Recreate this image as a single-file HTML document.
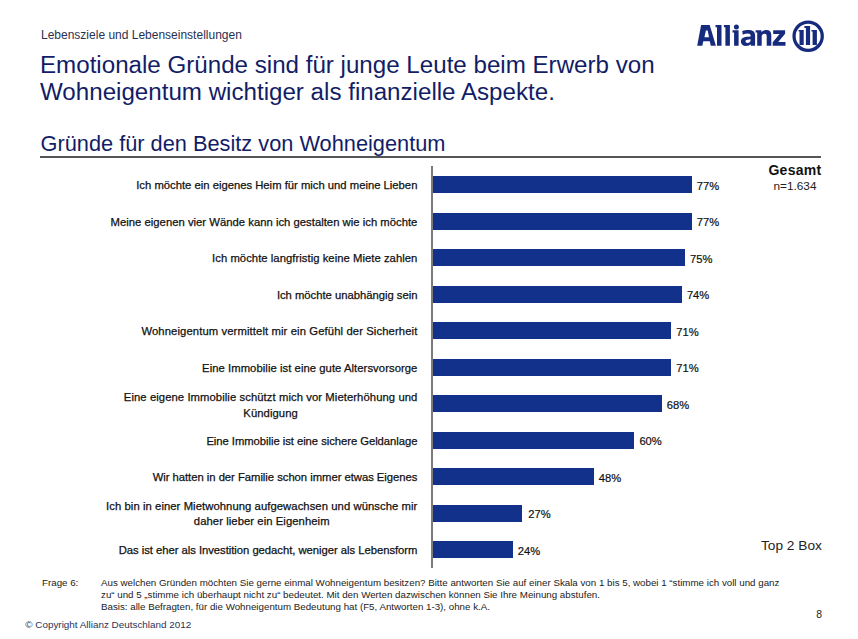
<!DOCTYPE html>
<html>
<head>
<meta charset="utf-8">
<style>
html,body{margin:0;padding:0;background:#fff;}
body{width:858px;height:639px;position:relative;overflow:hidden;font-family:"Liberation Sans",sans-serif;}
.a{position:absolute;white-space:nowrap;}
#sub{left:41px;top:28.7px;font-size:12px;line-height:12px;color:#2a3052;}
#title{left:40px;top:51.2px;font-size:24.15px;line-height:27px;color:#121d66;}
#sect{left:40.5px;top:133.3px;font-size:21.78px;line-height:21.78px;color:#121d66;}
#rule{left:40px;top:156px;width:781px;height:2px;background:#555;}
#axis{left:431px;top:166px;width:2px;height:402px;background:#7a7a7a;}
.bar{position:absolute;left:433px;height:17px;background:#12318a;}
.lbl{position:absolute;right:440.6px;text-align:center;font-size:11.27px;color:#111;-webkit-text-stroke:0.25px #111;white-space:nowrap;}
.pct{position:absolute;font-size:11.2px;line-height:11.2px;color:#111;-webkit-text-stroke:0.2px #111;white-space:nowrap;}
#gesamt{left:766px;top:163.4px;width:58px;text-align:center;font-size:14px;line-height:14px;font-weight:bold;color:#111;letter-spacing:0.3px;}
#n{left:766px;top:181.4px;width:58px;text-align:center;font-size:11.8px;line-height:11.8px;color:#222;}
#top2{left:761px;top:538.7px;font-size:13.7px;line-height:13.7px;color:#222;}
.foot{position:absolute;font-size:9.75px;line-height:11.9px;color:#222;white-space:nowrap;}
#copy{left:25.3px;top:620px;font-size:9.9px;line-height:9.9px;color:#2a3258;}
#pg{left:816.3px;top:610px;font-size:10.4px;line-height:10.4px;color:#222;}
</style>
</head>
<body>
<div class="a" id="sub">Lebensziele und Lebenseinstellungen</div>
<div class="a" id="title">Emotionale Gründe sind für junge Leute beim Erwerb von<br>Wohneigentum wichtiger als finanzielle Aspekte.</div>
<div class="a" id="sect">Gründe für den Besitz von Wohneigentum</div>
<div class="a" id="rule"></div>

<svg class="a" style="left:690px;top:15px" width="140" height="42" viewBox="690 15 140 42">
<g fill="#172b7e">
<path fill-rule="evenodd" d="M697.2 45.7 L701.1 25.1 L709.7 25.1 L715.9 45.7 L710.8 45.7 L709.8 41.2 L703.3 41.2 L702.3 45.7 Z M705.9 30.6 L707.7 30.6 L709 37.2 L704.4 37.2 Z"/>
<path d="M715.5 25.1 H721.5 V45.7 H717 V27.3 H715.5 Z"/>
<path d="M723.9 25.1 H729.9 V45.7 H725.4 V27.3 H723.9 Z"/>
<circle cx="736.4" cy="26.9" r="2.5"/>
<path d="M732.5 30.3 H738.6 V45.7 H734.1 V32.4 H732.5 Z"/>
<path fill-rule="evenodd" d="M742.2 31 C744.5 30.1 746.4 29.9 748.3 29.9 C752.6 29.9 755.1 31.6 755.1 35.4 V45.7 H750.9 L750.7 44.3 C749.5 45.5 748 46 746.1 46 C742.8 46 740.9 44.1 740.9 41.5 C740.9 38.2 743.6 36.8 748.2 36.7 L750.6 36.6 V35.6 C750.6 34.2 749.6 33.4 747.7 33.4 C746 33.4 744.3 33.9 742.8 34.7 Z M750.6 39.3 L748.9 39.4 C746.6 39.5 745.5 40.1 745.5 41.3 C745.5 42.3 746.2 42.9 747.4 42.9 C749.1 42.9 750.6 41.8 750.6 40.2 Z"/>
<path d="M755.6 30.3 H761.4 L761.5 32.2 C762.7 30.8 764.3 29.9 766.4 29.9 C769.6 29.9 771.3 31.8 771.3 35.2 V45.7 H766.7 V36.2 C766.7 34.5 766 33.7 764.7 33.7 C763.2 33.7 762 34.7 761.7 36.1 V45.7 H757.2 V32.4 H755.6 Z"/>
<path d="M773.2 30.3 H785.1 V33.7 L778.2 42.1 H785.5 V45.7 H772.7 V42.3 L779.6 34 H773.2 Z"/>
</g>
<circle cx="808.15" cy="36.25" r="14.1" fill="none" stroke="#172b7e" stroke-width="3.3"/>
<g fill="#172b7e">
<path d="M798.6 29.9 H803.7 V44.9 H799.5 V31.6 H798.6 Z"/>
<path d="M804.4 26.1 H810.1 V44.9 H805.9 V28 H804.4 Z"/>
<path d="M811.4 29.9 H816.9 V44.9 H812.6 V31.6 H811.4 Z"/>
</g>
</svg>

<div class="a" id="axis"></div>

<div class="bar" style="top:176.3px;width:258.8px"></div>
<div class="bar" style="top:212.8px;width:258.8px"></div>
<div class="bar" style="top:249.3px;width:252px"></div>
<div class="bar" style="top:285.8px;width:248.9px"></div>
<div class="bar" style="top:322.3px;width:238.2px"></div>
<div class="bar" style="top:358.8px;width:238.2px"></div>
<div class="bar" style="top:395.2px;width:228.7px"></div>
<div class="bar" style="top:431.7px;width:201.4px"></div>
<div class="bar" style="top:468.2px;width:160.8px"></div>
<div class="bar" style="top:504.7px;width:89.4px"></div>
<div class="bar" style="top:541.2px;width:79.7px"></div>

<div class="lbl" style="letter-spacing:0px;top:180.1px;line-height:11.2px">Ich möchte ein eigenes Heim für mich und meine Lieben</div>
<div class="lbl" style="letter-spacing:0.021px;top:216.6px;line-height:11.2px">Meine eigenen vier Wände kann ich gestalten wie ich möchte</div>
<div class="lbl" style="letter-spacing:0.044px;top:253.1px;line-height:11.2px">Ich möchte langfristig keine Miete zahlen</div>
<div class="lbl" style="letter-spacing:-0.015px;top:289.6px;line-height:11.2px">Ich möchte unabhängig sein</div>
<div class="lbl" style="letter-spacing:0.108px;top:326.1px;line-height:11.2px">Wohneigentum vermittelt mir ein Gefühl der Sicherheit</div>
<div class="lbl" style="letter-spacing:0.056px;top:362.6px;line-height:11.2px">Eine Immobilie ist eine gute Altersvorsorge</div>
<div class="lbl" style="letter-spacing:0.078px;top:388.6px;line-height:16px">Eine eigene Immobilie schützt mich vor Mieterhöhung und<br>Kündigung</div>
<div class="lbl" style="letter-spacing:-0.045px;top:435.6px;line-height:11.2px">Eine Immobilie ist eine sichere Geldanlage</div>
<div class="lbl" style="letter-spacing:-0.026px;top:472.1px;line-height:11.2px">Wir hatten in der Familie schon immer etwas Eigenes</div>
<div class="lbl" style="letter-spacing:0.067px;top:499.0px;line-height:14.8px">Ich bin in einer Mietwohnung aufgewachsen und wünsche mir<br>daher lieber ein Eigenheim</div>
<div class="lbl" style="letter-spacing:-0.03px;top:545.1px;line-height:11.2px">Das ist eher als Investition gedacht, weniger als Lebensform</div>

<div class="pct" style="left:696.8px;top:180.7px">77%</div>
<div class="pct" style="left:696.8px;top:217.2px">77%</div>
<div class="pct" style="left:690px;top:253.7px">75%</div>
<div class="pct" style="left:686.9px;top:290.2px">74%</div>
<div class="pct" style="left:676.2px;top:326.7px">71%</div>
<div class="pct" style="left:676.2px;top:363.2px">71%</div>
<div class="pct" style="left:666.7px;top:399.6px">68%</div>
<div class="pct" style="left:639.4px;top:436.1px">60%</div>
<div class="pct" style="left:598.8px;top:472.6px">48%</div>
<div class="pct" style="left:528.2px;top:509.1px">27%</div>
<div class="pct" style="left:517.7px;top:545.6px">24%</div>

<div class="a" id="gesamt">Gesamt</div>
<div class="a" id="n">n=1.634</div>
<div class="a" id="top2">Top 2 Box</div>

<div class="foot" style="left:42px;top:577px">Frage 6:</div>
<div class="foot" style="left:101px;top:577px">Aus welchen Gründen möchten Sie gerne einmal Wohneigentum besitzen? Bitte antworten Sie auf einer Skala von 1 bis 5, wobei 1 “stimme ich voll und ganz<br>zu“ und 5 „stimme ich überhaupt nicht zu“ bedeutet. Mit den Werten dazwischen können Sie Ihre Meinung abstufen.<br>Basis: alle Befragten, für die Wohneigentum Bedeutung hat (F5, Antworten 1-3), ohne k.A.</div>
<div class="a" id="copy">© Copyright Allianz Deutschland 2012</div>
<div class="a" id="pg">8</div>
</body>
</html>
